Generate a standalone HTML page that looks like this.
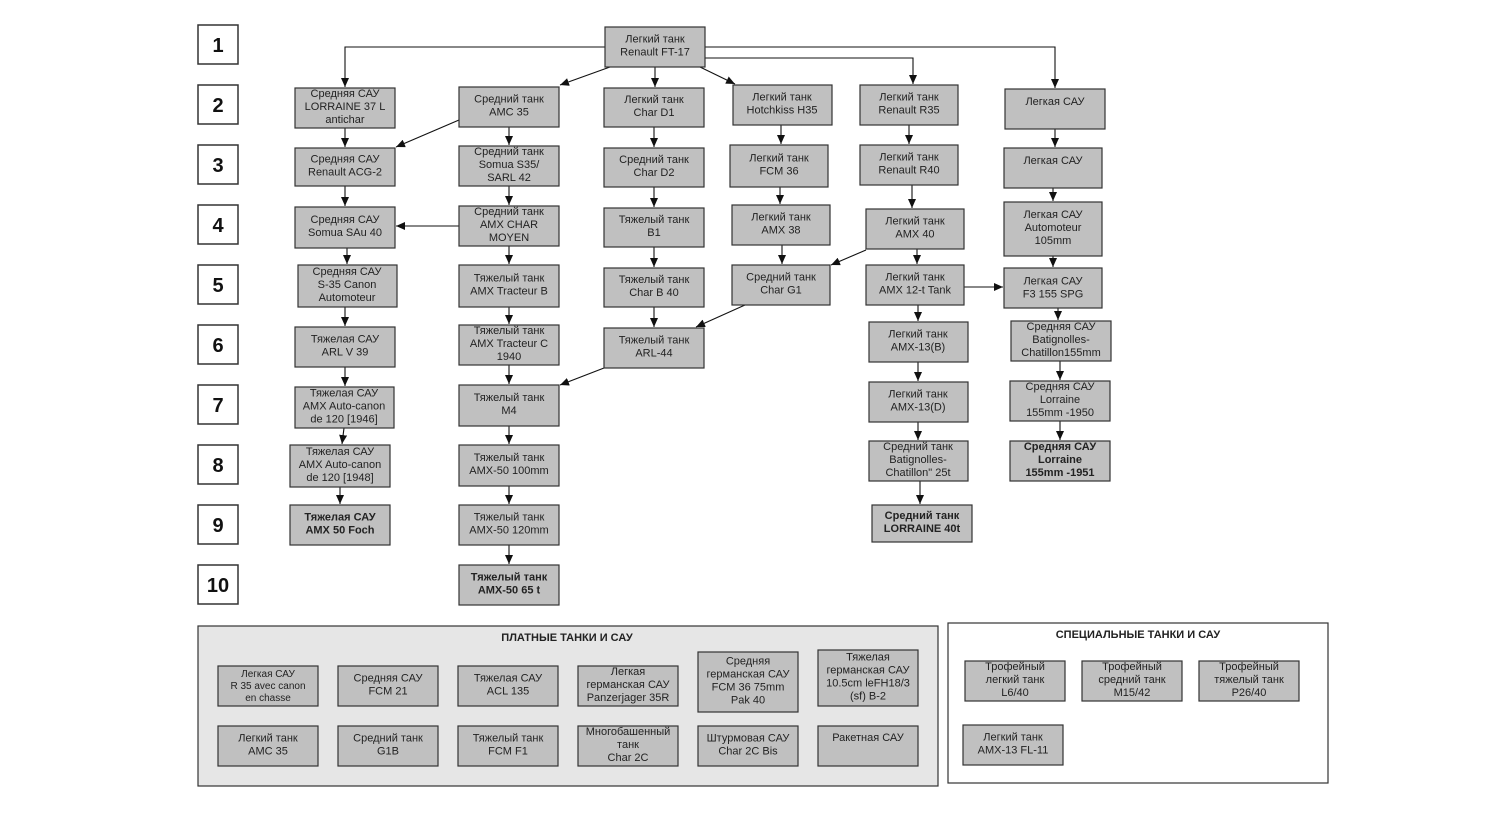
<!DOCTYPE html>
<html><head><meta charset="utf-8"><style>
body{margin:0;background:#fff}
svg{display:block}
text{font-family:"Liberation Sans",Arial,sans-serif;font-size:11px;fill:#222;text-anchor:middle}
.b rect,rect.b{fill:#c0c0c0;stroke:#333;stroke-width:1.2}
.n{font-size:20px;font-weight:bold;fill:#111}
.bd{font-weight:bold}
line,polyline{stroke:#111;stroke-width:1.1;fill:none}
</style></head><body>
<svg width="1489" height="815" viewBox="0 0 1489 815" xmlns="http://www.w3.org/2000/svg">
<defs><marker id="a" markerWidth="10" markerHeight="10" refX="9" refY="4" orient="auto" markerUnits="userSpaceOnUse"><path d="M0,0 L9,4 L0,8 z" fill="#111"/></marker></defs>
<g fill="#fff" stroke="#333" stroke-width="1.5">
<rect x="198" y="25" width="40" height="39"/><rect x="198" y="85" width="40" height="39"/><rect x="198" y="145" width="40" height="39"/><rect x="198" y="205" width="40" height="39"/><rect x="198" y="265" width="40" height="39"/><rect x="198" y="325" width="40" height="39"/><rect x="198" y="385" width="40" height="39"/><rect x="198" y="445" width="40" height="39"/><rect x="198" y="505" width="40" height="39"/><rect x="198" y="565" width="40" height="39"/>
</g>
<text class="n" x="218" y="52">1</text><text class="n" x="218" y="112">2</text><text class="n" x="218" y="172">3</text><text class="n" x="218" y="232">4</text><text class="n" x="218" y="292">5</text><text class="n" x="218" y="352">6</text><text class="n" x="218" y="412">7</text><text class="n" x="218" y="472">8</text><text class="n" x="218" y="532">9</text><text class="n" x="218" y="592">10</text>

<rect x="198" y="626" width="740" height="160" fill="#e6e6e6" stroke="#333" stroke-width="1.2"/>
<rect x="948" y="623" width="380" height="160" fill="#fff" stroke="#333" stroke-width="1.2"/>
<text class="bd" x="567" y="641">ПЛАТНЫЕ ТАНКИ И САУ</text>
<text class="bd" x="1138" y="638">СПЕЦИАЛЬНЫЕ ТАНКИ И САУ</text>

<g>
<polyline points="605,47 345,47 345,87" marker-end="url(#a)"/>
<polyline points="705,47 1055,47 1055,88" marker-end="url(#a)"/>
<polyline points="705,58 913,58 913,84" marker-end="url(#a)"/>
<line x1="655" y1="67" x2="655" y2="87" marker-end="url(#a)"/>
<line x1="610" y1="67" x2="560" y2="85" marker-end="url(#a)"/>
<line x1="700" y1="67" x2="735" y2="84" marker-end="url(#a)"/>
<line x1="345" y1="128" x2="345" y2="147" marker-end="url(#a)"/>
<line x1="345" y1="186" x2="345" y2="206" marker-end="url(#a)"/>
<line x1="347" y1="248" x2="347" y2="264" marker-end="url(#a)"/>
<line x1="345" y1="307" x2="345" y2="326" marker-end="url(#a)"/>
<line x1="345" y1="367" x2="345" y2="386" marker-end="url(#a)"/>
<line x1="344" y1="428" x2="342" y2="444" marker-end="url(#a)"/>
<line x1="340" y1="487" x2="340" y2="504" marker-end="url(#a)"/>
<line x1="459" y1="120" x2="396" y2="147" marker-end="url(#a)"/>
<line x1="509" y1="127" x2="509" y2="145" marker-end="url(#a)"/>
<line x1="509" y1="186" x2="509" y2="205" marker-end="url(#a)"/>
<line x1="459" y1="226" x2="396" y2="226" marker-end="url(#a)"/>
<line x1="509" y1="246" x2="509" y2="264" marker-end="url(#a)"/>
<line x1="509" y1="307" x2="509" y2="324" marker-end="url(#a)"/>
<line x1="509" y1="365" x2="509" y2="384" marker-end="url(#a)"/>
<line x1="509" y1="426" x2="509" y2="444" marker-end="url(#a)"/>
<line x1="509" y1="486" x2="509" y2="504" marker-end="url(#a)"/>
<line x1="509" y1="545" x2="509" y2="564" marker-end="url(#a)"/>
<line x1="654" y1="127" x2="654" y2="147" marker-end="url(#a)"/>
<line x1="654" y1="187" x2="654" y2="207" marker-end="url(#a)"/>
<line x1="654" y1="247" x2="654" y2="267" marker-end="url(#a)"/>
<line x1="654" y1="307" x2="654" y2="327" marker-end="url(#a)"/>
<line x1="604" y1="368" x2="560" y2="385" marker-end="url(#a)"/>
<line x1="781" y1="125" x2="781" y2="144" marker-end="url(#a)"/>
<line x1="780" y1="187" x2="780" y2="204" marker-end="url(#a)"/>
<line x1="782" y1="245" x2="782" y2="264" marker-end="url(#a)"/>
<line x1="745" y1="305" x2="696" y2="327" marker-end="url(#a)"/>
<line x1="866" y1="250" x2="831" y2="265" marker-end="url(#a)"/>
<line x1="909" y1="125" x2="909" y2="144" marker-end="url(#a)"/>
<line x1="912" y1="185" x2="912" y2="208" marker-end="url(#a)"/>
<line x1="917" y1="249" x2="917" y2="264" marker-end="url(#a)"/>
<line x1="964" y1="287" x2="1003" y2="287" marker-end="url(#a)"/>
<line x1="918" y1="305" x2="918" y2="321" marker-end="url(#a)"/>
<line x1="918" y1="362" x2="918" y2="381" marker-end="url(#a)"/>
<line x1="918" y1="422" x2="918" y2="440" marker-end="url(#a)"/>
<line x1="920" y1="481" x2="920" y2="504" marker-end="url(#a)"/>
<line x1="1055" y1="129" x2="1055" y2="147" marker-end="url(#a)"/>
<line x1="1053" y1="188" x2="1053" y2="201" marker-end="url(#a)"/>
<line x1="1053" y1="256" x2="1053" y2="267" marker-end="url(#a)"/>
<line x1="1058" y1="308" x2="1058" y2="320" marker-end="url(#a)"/>
<line x1="1060" y1="361" x2="1060" y2="380" marker-end="url(#a)"/>
<line x1="1060" y1="421" x2="1060" y2="440" marker-end="url(#a)"/>
</g>

<g class="b">
<rect x="605" y="27" width="100" height="40"/>
<rect x="295" y="88" width="100" height="40"/><rect x="295" y="148" width="100" height="38"/><rect x="295" y="207" width="100" height="41"/><rect x="298" y="265" width="99" height="42"/><rect x="295" y="327" width="100" height="40"/><rect x="295" y="387" width="99" height="41"/><rect x="290" y="445" width="100" height="42"/><rect x="290" y="505" width="100" height="40"/>
<rect x="459" y="87" width="100" height="40"/><rect x="459" y="146" width="100" height="40"/><rect x="459" y="206" width="100" height="40"/><rect x="459" y="265" width="100" height="42"/><rect x="459" y="325" width="100" height="40"/><rect x="459" y="385" width="100" height="41"/><rect x="459" y="445" width="100" height="41"/><rect x="459" y="505" width="100" height="40"/><rect x="459" y="565" width="100" height="40"/>
<rect x="604" y="88" width="100" height="39"/><rect x="604" y="148" width="100" height="39"/><rect x="604" y="208" width="100" height="39"/><rect x="604" y="268" width="100" height="39"/><rect x="604" y="328" width="100" height="40"/>
<rect x="733" y="85" width="99" height="40"/><rect x="730" y="145" width="98" height="42"/><rect x="732" y="205" width="98" height="40"/><rect x="732" y="265" width="98" height="40"/>
<rect x="860" y="85" width="98" height="40"/><rect x="860" y="145" width="98" height="40"/><rect x="866" y="209" width="98" height="40"/><rect x="866" y="265" width="98" height="40"/><rect x="869" y="322" width="99" height="40"/><rect x="869" y="382" width="99" height="40"/><rect x="869" y="441" width="99" height="40"/><rect x="872" y="505" width="100" height="37"/>
<rect x="1005" y="89" width="100" height="40"/><rect x="1004" y="148" width="98" height="40"/><rect x="1004" y="202" width="98" height="54"/><rect x="1004" y="268" width="98" height="40"/><rect x="1011" y="321" width="100" height="40"/><rect x="1010" y="381" width="100" height="40"/><rect x="1010" y="441" width="100" height="40"/>
<rect x="218" y="666" width="100" height="40"/><rect x="338" y="666" width="100" height="40"/><rect x="458" y="666" width="100" height="40"/><rect x="578" y="666" width="100" height="40"/><rect x="698" y="652" width="100" height="60"/><rect x="818" y="650" width="100" height="56"/>
<rect x="218" y="726" width="100" height="40"/><rect x="338" y="726" width="100" height="40"/><rect x="458" y="726" width="100" height="40"/><rect x="578" y="726" width="100" height="40"/><rect x="698" y="726" width="100" height="40"/><rect x="818" y="726" width="100" height="40"/>
<rect x="965" y="661" width="100" height="40"/><rect x="1082" y="661" width="100" height="40"/><rect x="1199" y="661" width="100" height="40"/><rect x="963" y="725" width="100" height="40"/>
</g>

<text x="655" y="42.5">Легкий танк<tspan x="655" dy="13">Renault FT-17</tspan></text>
<text x="345" y="97">Средняя САУ<tspan x="345" dy="13">LORRAINE 37 L</tspan><tspan x="345" dy="13">antichar</tspan></text>
<text x="345" y="162.5">Средняя  САУ<tspan x="345" dy="13">Renault ACG-2</tspan></text>
<text x="345" y="223">Средняя САУ<tspan x="345" dy="13">Somua SAu 40</tspan></text>
<text x="347" y="275">Средняя САУ<tspan x="347" dy="13">S-35 Canon</tspan><tspan x="347" dy="13">Automoteur</tspan></text>
<text x="345" y="342.5">Тяжелая САУ<tspan x="345" dy="13">ARL V 39</tspan></text>
<text x="344" y="396.5">Тяжелая САУ<tspan x="344" dy="13">AMX Auto-canon</tspan><tspan x="344" dy="13">de 120 [1946]</tspan></text>
<text x="340" y="455">Тяжелая  САУ<tspan x="340" dy="13">AMX Auto-canon</tspan><tspan x="340" dy="13">de 120 [1948]</tspan></text>
<text class="bd" x="340" y="520.5">Тяжелая САУ<tspan x="340" dy="13">AMX 50 Foch</tspan></text>

<text x="509" y="102.5">Средний танк<tspan x="509" dy="13">AMC 35</tspan></text>
<text x="509" y="155">Средний танк<tspan x="509" dy="13">Somua S35/</tspan><tspan x="509" dy="13">SARL 42</tspan></text>
<text x="509" y="215">Средний танк<tspan x="509" dy="13">AMX CHAR</tspan><tspan x="509" dy="13">MOYEN</tspan></text>
<text x="509" y="281.5">Тяжелый танк<tspan x="509" dy="13">AMX Tracteur B</tspan></text>
<text x="509" y="334">Тяжелый танк<tspan x="509" dy="13">AMX Tracteur C</tspan><tspan x="509" dy="13">1940</tspan></text>
<text x="509" y="401">Тяжелый танк<tspan x="509" dy="13">M4</tspan></text>
<text x="509" y="461">Тяжелый танк<tspan x="509" dy="13">AMX-50 100mm</tspan></text>
<text x="509" y="520.5">Тяжелый танк<tspan x="509" dy="13">AMX-50 120mm</tspan></text>
<text class="bd" x="509" y="580.5">Тяжелый танк<tspan x="509" dy="13">AMX-50 65 t</tspan></text>

<text x="654" y="103">Легкий танк<tspan x="654" dy="13">Char D1</tspan></text>
<text x="654" y="163">Средний танк<tspan x="654" dy="13">Char D2</tspan></text>
<text x="654" y="223">Тяжелый танк<tspan x="654" dy="13">B1</tspan></text>
<text x="654" y="283">Тяжелый танк<tspan x="654" dy="13">Char B 40</tspan></text>
<text x="654" y="343.5">Тяжелый танк<tspan x="654" dy="13">ARL-44</tspan></text>

<text x="782" y="100.5">Легкий танк<tspan x="782" dy="13">Hotchkiss H35</tspan></text>
<text x="779" y="161.5">Легкий танк<tspan x="779" dy="13">FCM 36</tspan></text>
<text x="781" y="220.5">Легкий танк<tspan x="781" dy="13">AMX 38</tspan></text>
<text x="781" y="280.5">Средний танк<tspan x="781" dy="13">Char G1</tspan></text>

<text x="909" y="100.5">Легкий танк<tspan x="909" dy="13">Renault R35</tspan></text>
<text x="909" y="160.5">Легкий танк<tspan x="909" dy="13">Renault R40</tspan></text>
<text x="915" y="224.5">Легкий танк<tspan x="915" dy="13">AMX 40</tspan></text>
<text x="915" y="280.5">Легкий танк<tspan x="915" dy="13">AMX 12-t Tank</tspan></text>
<text x="918" y="337.5">Легкий танк<tspan x="918" dy="13">AMX-13(B)</tspan></text>
<text x="918" y="397.5">Легкий танк<tspan x="918" dy="13">AMX-13(D)</tspan></text>
<text x="918" y="450">Средний танк<tspan x="918" dy="13">Batignolles-</tspan><tspan x="918" dy="13">Chatillon" 25t</tspan></text>
<text class="bd" x="922" y="519">Средний танк<tspan x="922" dy="13">LORRAINE 40t</tspan></text>

<text x="1055" y="105">Легкая САУ</text>
<text x="1053" y="164">Легкая САУ</text>
<text x="1053" y="218">Легкая САУ<tspan x="1053" dy="13">Automoteur</tspan><tspan x="1053" dy="13">105mm</tspan></text>
<text x="1053" y="284.5">Легкая САУ<tspan x="1053" dy="13">F3 155 SPG</tspan></text>
<text x="1061" y="330">Средняя  САУ<tspan x="1061" dy="13">Batignolles-</tspan><tspan x="1061" dy="13">Chatillon155mm</tspan></text>
<text x="1060" y="390">Средняя  САУ<tspan x="1060" dy="13">Lorraine</tspan><tspan x="1060" dy="13">155mm -1950</tspan></text>
<text class="bd" x="1060" y="450">Средняя САУ<tspan x="1060" dy="13">Lorraine</tspan><tspan x="1060" dy="13">155mm -1951</tspan></text>

<text x="268" y="677" style="font-size:10px">Легкая  САУ<tspan x="268" dy="12">R 35 avec canon</tspan><tspan x="268" dy="12">en chasse</tspan></text>
<text x="388" y="681.5">Средняя САУ<tspan x="388" dy="13">FCM 21</tspan></text>
<text x="508" y="681.5">Тяжелая САУ<tspan x="508" dy="13">ACL 135</tspan></text>
<text x="628" y="675">Легкая<tspan x="628" dy="13">германская САУ</tspan><tspan x="628" dy="13">Panzerjager 35R</tspan></text>
<text x="748" y="664.5">Средняя<tspan x="748" dy="13">германская САУ</tspan><tspan x="748" dy="13">FCM 36 75mm</tspan><tspan x="748" dy="13">Pak 40</tspan></text>
<text x="868" y="660.5">Тяжелая<tspan x="868" dy="13">германская САУ</tspan><tspan x="868" dy="13">10.5cm leFH18/3</tspan><tspan x="868" dy="13">(sf)  B-2</tspan></text>
<text x="268" y="741.5">Легкий танк<tspan x="268" dy="13">AMC 35</tspan></text>
<text x="388" y="741.5">Средний танк<tspan x="388" dy="13">G1B</tspan></text>
<text x="508" y="741.5">Тяжелый танк<tspan x="508" dy="13">FCM F1</tspan></text>
<text x="628" y="735">Многобашенный<tspan x="628" dy="13">танк</tspan><tspan x="628" dy="13">Char 2C</tspan></text>
<text x="748" y="741.5">Штурмовая САУ<tspan x="748" dy="13">Char 2C Bis</tspan></text>
<text x="868" y="741">Ракетная САУ</text>

<text x="1015" y="670">Трофейный<tspan x="1015" dy="13">легкий танк</tspan><tspan x="1015" dy="13">L6/40</tspan></text>
<text x="1132" y="670">Трофейный<tspan x="1132" dy="13">средний танк</tspan><tspan x="1132" dy="13">M15/42</tspan></text>
<text x="1249" y="670">Трофейный<tspan x="1249" dy="13">тяжелый танк</tspan><tspan x="1249" dy="13">P26/40</tspan></text>
<text x="1013" y="740.5">Легкий танк<tspan x="1013" dy="13">AMX-13 FL-11</tspan></text>
</svg>
</body></html>
